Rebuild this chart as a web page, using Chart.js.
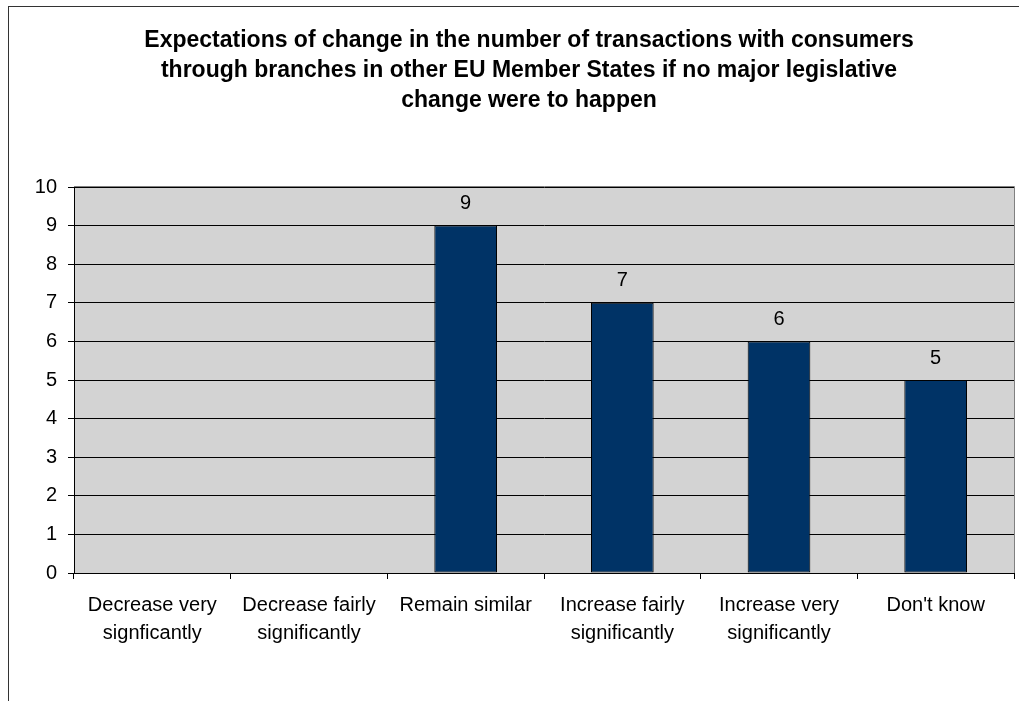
<!DOCTYPE html>
<html>
<head>
<meta charset="utf-8">
<script src="https://cdn.jsdelivr.net/npm/chart.js@4/dist/chart.umd.min.js"></script>
<style>
    html, body { margin: 0; padding: 0; background: #fff; overflow: hidden; width: 1019px; height: 701px; }
    #marco { position: absolute; left: 8px; top: 6px; width: 1100px; height: 800px; border-left: 1px solid #333; border-top: 1px solid #333; }
    #grafica { position: absolute; left: 0; top: 0; }
</style>
</head>
<body>
<div id="marco"></div>
<canvas id="grafica" width="1056" height="701"></canvas>
<script>
const categorias = [
    ['Decrease very', 'signficantly'],
    ['Decrease fairly', 'significantly'],
    'Remain similar',
    ['Increase fairly', 'significantly'],
    ['Increase very', 'significantly'],
    "Don't know"
];
const valores = [null, null, 9, 7, 6, 5];
const ticksY = [0, 1, 2, 3, 4, 5, 6, 7, 8, 9, 10];
const titulo = [
    'Expectations of change in the number of transactions with consumers',
    'through branches in other EU Member States if no major legislative',
    'change were to happen'
];

const fuente = "'Liberation Sans', Arial, sans-serif";

// fondo gris del area de trazado
const fondoArea = {
    id: 'fondoArea',
    beforeDraw(chart) {
        const { ctx, chartArea: a } = chart;
        ctx.save();
        ctx.fillStyle = '#d3d3d3';
        ctx.fillRect(a.left, a.top, a.right - a.left, a.bottom - a.top);
        ctx.strokeStyle = '#808080';
        ctx.lineWidth = 1;
        ctx.beginPath();
        ctx.moveTo(a.left, a.top - 0.5);
        ctx.lineTo(a.right + 0.5, a.top - 0.5);
        ctx.lineTo(a.right + 0.5, a.bottom);
        ctx.stroke();
        ctx.restore();
    }
};

// titulo centrado en el marco completo del grafico (que sigue mas alla de la ventana)
const tituloCentrado = {
    id: 'tituloCentrado',
    afterDraw(chart) {
        const { ctx } = chart;
        ctx.save();
        ctx.font = 'bold 23px ' + fuente;
        ctx.fillStyle = '#000';
        ctx.textAlign = 'center';
        ctx.textBaseline = 'middle';
        titulo.forEach((linea, i) => {
            ctx.fillText(linea, 529, 41 + i * 30);
        });
        ctx.restore();
    }
};

// numeros encima de cada barra
const etiquetas = {
    id: 'etiquetas',
    afterDatasetsDraw(chart) {
        const { ctx } = chart;
        const meta = chart.getDatasetMeta(0);
        ctx.save();
        ctx.font = '20px ' + fuente;
        ctx.fillStyle = '#000';
        ctx.textAlign = 'center';
        ctx.textBaseline = 'bottom';
        meta.data.forEach((barra, i) => {
            const v = valores[i];
            if (v === null || v === undefined) return;
            ctx.fillText(String(v), barra.x, barra.y - 12);
        });
        ctx.restore();
    }
};

new Chart(document.getElementById('grafica').getContext('2d'), {
    type: 'bar',
    data: {
        labels: categorias,
        datasets: [{
            data: valores,
            backgroundColor: '#003366',
            borderColor: '#000',
            borderWidth: 1,
            borderSkipped: false,
            barPercentage: 0.4,
            categoryPercentage: 1
        }]
    },
    options: {
        responsive: false,
        animation: false,
        devicePixelRatio: 1,
        layout: { padding: { left: 0, right: 42, top: 187, bottom: 0 } },
        plugins: {
            legend: { display: false },
            tooltip: { enabled: false },
            title: { display: false }
        },
        scales: {
            x: {
                grid: { drawOnChartArea: false, drawTicks: true, tickLength: 6, color: '#000', offset: true },
                border: { color: '#000', width: 1 },
                ticks: {
                    color: '#000',
                    maxRotation: 0,
                    autoSkip: false,
                    padding: 12,
                    font: { family: fuente, size: 20, lineHeight: 1.4 }
                },
                afterFit(scale) { scale.height = 128; }
            },
            y: {
                min: 0,
                max: 10,
                afterBuildTicks(scale) { scale.ticks = ticksY.map(v => ({ value: v })); },
                grid: { color: '#000', lineWidth: 1, tickLength: 6 },
                border: { color: '#000', width: 1 },
                ticks: {
                    color: '#000',
                    padding: 11,
                    font: { family: fuente, size: 20 }
                },
                afterFit(scale) { scale.width = 74; }
            }
        }
    },
    plugins: [fondoArea, etiquetas, tituloCentrado]
});
</script>
</body>
</html>
